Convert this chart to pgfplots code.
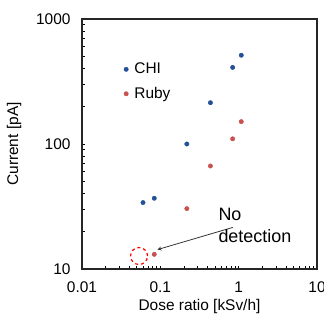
\documentclass[border=0pt]{standalone}
\usepackage{pgfplots}
\pgfplotsset{compat=1.18}
\usepackage{fontspec}
\setmainfont{Liberation Sans}
\definecolor{chiblue}{RGB}{35,80,150}
\definecolor{rubyred}{RGB}{200,80,80}
\begin{document}
\begin{tikzpicture}
\begin{axis}[
  at={(82bp,49bp)}, anchor=south west,
  scale only axis, width=235bp, height=250bp,
  xmode=log, ymode=log,
  xmin=0.01, xmax=10, ymin=10, ymax=1000,
  xtick={0.01,0.1,1,10}, xticklabels={0.01,0.1,1,10},
  ytick={10,100,1000}, yticklabels={10,100,1000},
  tick align=inside,
  xtick pos=bottom, ytick pos=left,
  major tick length=0pt, minor tick length=3.5bp,
  minor tick style={black, line width=0.6bp},
  axis line style={line width=1.6bp, black!85},
  tick label style={font=\fontsize{15.5}{18}\selectfont},
  xticklabel style={yshift=-9bp},
  yticklabel style={xshift=-8bp},
  /pgf/number format/assume math mode=true,
  xlabel={Dose ratio [kSv/h]}, ylabel={Current [pA]},
  label style={font=\fontsize{15.5}{18}\selectfont},
  xlabel style={yshift=0bp},
  ylabel style={yshift=8bp},
  legend style={draw=none, fill=none, at={(0.165,0.84)}, anchor=north west,
    font=\fontsize{15.5}{18}\selectfont, row sep=8bp,
    /tikz/every odd column/.append style={column sep=4bp}},
  legend cell align=left,
  legend image code/.code={\draw[#1] plot coordinates {(0bp,0bp)};},
]
\addplot[only marks, mark=*, mark size=2.2bp, color=chiblue] coordinates {
(1.08,513) (0.838,410) (0.436,214) (0.218,100) (0.0601,34) (0.0837,36.8)};
\addlegendentry{CHI}
\addplot[only marks, mark=*, mark size=2.2bp, color=rubyred] coordinates {
(1.08,151) (0.838,110) (0.436,66.7) (0.218,30.4) (0.0837,13.1)};
\addlegendentry{Ruby}
\addplot[only marks, mark=o, mark size=8.5bp, color=red, mark options={dashed, line width=1.2bp}, forget plot] coordinates {(0.0535,12.7)};
\draw[-stealth, line width=0.8bp, black!80] (axis cs:0.84,21.5) -- (axis cs:0.092,14.3);
\node[anchor=north west, align=left, font=\fontsize{18}{22}\selectfont, inner sep=0pt] at (axis cs:0.55,31) {No\\detection};
\end{axis}
\pgfresetboundingbox
\path (0,0) rectangle (324bp,318bp);
\end{tikzpicture}
\end{document}
